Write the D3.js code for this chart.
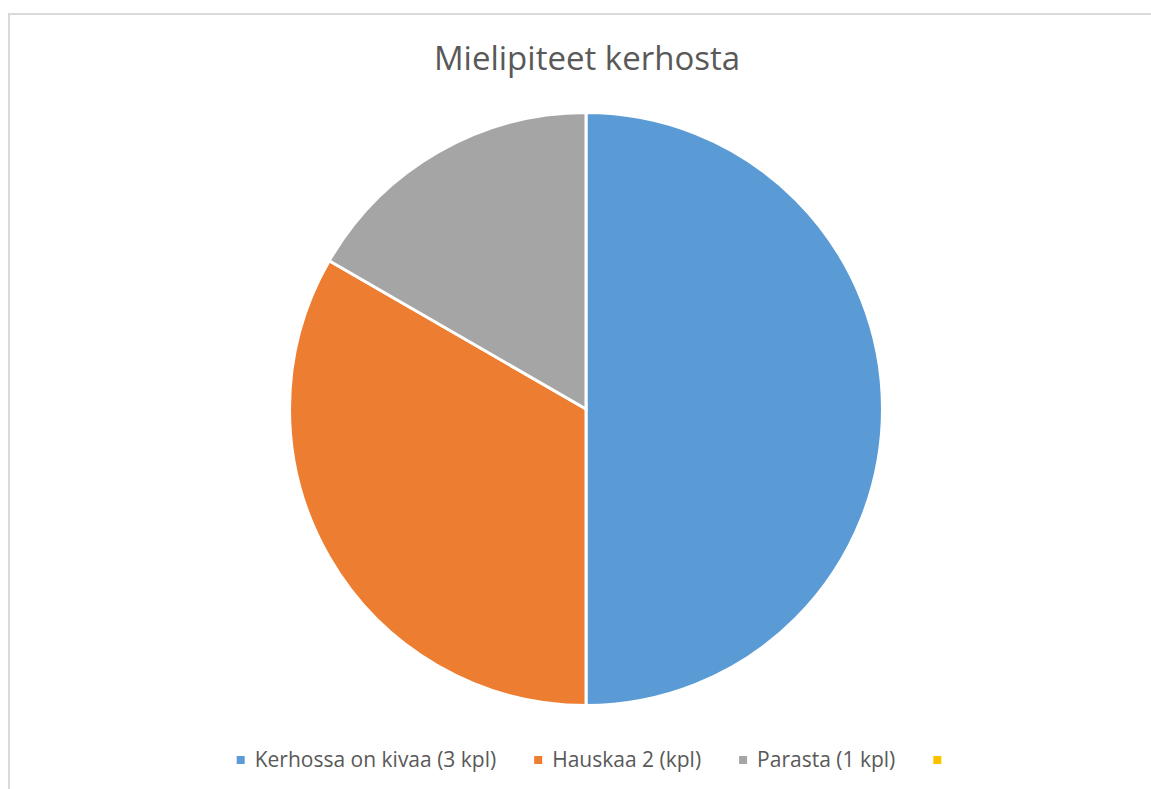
<!DOCTYPE html>
<html>
<head>
<meta charset="utf-8">
<script src="https://cdn.jsdelivr.net/npm/d3@7"></script>
<style>
  html, body { margin: 0; padding: 0; background: #fff; }
  svg { display: block; }
</style>
</head>
<body>
<svg id="chart" width="1151" height="789"></svg>
<script>
const title = "Mielipiteet kerhosta";
const categories = ["Kerhossa on kivaa (3 kpl)", "Hauskaa 2 (kpl)", "Parasta (1 kpl)", ""];
const values = [3, 2, 1, 0];
const colors = ["#5b9bd5", "#ed7d31", "#a5a5a5", "#ffc000"];

const W = 1151, H = 789;
const svg = d3.select("#chart");

// chart area border (top and left visible)
svg.append("path")
  .attr("d", `M9,${H} L9,14 L${W},14`)
  .attr("fill", "none")
  .attr("stroke", "#d9d9d9")
  .attr("stroke-width", 2);

// title
svg.append("text")
  .attr("x", 587)
  .attr("y", 70)
  .attr("text-anchor", "middle")
  .attr("font-family", "'Open Sans', sans-serif")
  .attr("font-size", 33)
  .attr("fill", "#595959")
  .text(title);

// pie
const cx = 586, cy = 409, r = 296.5;
const data = categories.map((c, i) => ({ name: c, value: values[i], color: colors[i] }));
const pie = d3.pie().value(d => d.value).sort(null);
const arc = d3.arc().innerRadius(0).outerRadius(r);
svg.append("g")
  .attr("transform", `translate(${cx},${cy})`)
  .selectAll("path")
  .data(pie(data).filter(d => d.data.value > 0))
  .join("path")
  .attr("d", arc)
  .attr("fill", d => d.data.color)
  .attr("stroke", "#fff")
  .attr("stroke-width", 3)
  .attr("stroke-linejoin", "round");

// legend
const legend = svg.append("g");
const fontSize = 21;
const sq = 8, gapSqText = 10, gapItems = 38;
const items = legend.selectAll("g").data(data).join("g");
items.append("rect")
  .attr("width", sq).attr("height", sq)
  .attr("y", -sq / 2)
  .attr("fill", d => d.color);
items.append("text")
  .attr("x", sq + gapSqText)
  .attr("dy", "0.35em")
  .attr("font-family", "'Open Sans', sans-serif")
  .attr("font-size", fontSize)
  .attr("fill", "#595959")
  .text(d => d.name);
let widths = [];
items.each(function() {
  const t = d3.select(this).select("text").node();
  widths.push(sq + gapSqText + t.getComputedTextLength());
});
const total = d3.sum(widths) + gapItems * (widths.length - 1);
let x = cx + 8 - total / 2;
items.attr("transform", (d, i) => {
  const tx = x;
  x += widths[i] + gapItems;
  return `translate(${tx},760)`;
});
</script>
</body>
</html>
